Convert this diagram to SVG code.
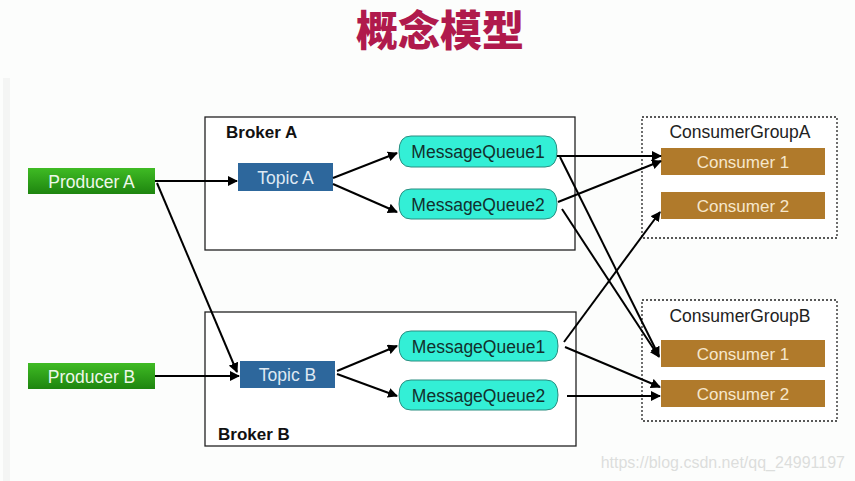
<svg xmlns="http://www.w3.org/2000/svg" width="855" height="481" viewBox="0 0 855 481">
<defs>
<linearGradient id="gGreen" x1="0" y1="0" x2="0" y2="1">
<stop offset="0" stop-color="#3fbb24"/>
<stop offset="1" stop-color="#1e850f"/>
</linearGradient>
<marker id="arr" viewBox="0 0 10 10" refX="9" refY="5" markerWidth="5" markerHeight="5" orient="auto" markerUnits="strokeWidth">
<path d="M0,0 L10,5 L0,10 Z" fill="#000"/>
</marker>
<style>
text{font-family:"Liberation Sans",Arial,sans-serif}
.title{font-family:"Noto Sans CJK SC",sans-serif;font-weight:900;font-size:42px;fill:#b01a4c}
.producer{fill:url(#gGreen)}
.ptext{font-size:17.5px;fill:#eef8ea}
.broker{fill:#fff;stroke:#222;stroke-width:1.3}
.blabel{font-size:17px;font-weight:bold;fill:#111}
.topic{fill:#2d679c}
.ttext{font-size:17.5px;fill:#dfe9f3}
.mq{fill:#33efd6;stroke:#2a8d80;stroke-width:1}
.mqtext{font-size:17.5px;fill:#12302d}
.group{fill:#fff;stroke:#222;stroke-width:1.3;stroke-dasharray:2 2}
.gtext{font-size:17.5px;fill:#222}
.consumer{fill:#b07a2b}
.ctext{font-size:17px;fill:#f6e7cc}
.conn line{stroke:#000;stroke-width:2;marker-end:url(#arr)}
</style>
</defs>
<rect width="855" height="481" fill="#fcfdfc"/>
<rect x="3" y="78" width="7" height="403" fill="#f4f5f4"/>
<text class="title" x="440" y="46" text-anchor="middle">概念模型</text>

<g id="brokerA">
<rect class="broker" x="205" y="117" width="370" height="133"/>
<text class="blabel" x="226" y="138">Broker A</text>
</g>
<g id="brokerB">
<rect class="broker" x="205" y="312" width="371" height="134"/>
<text class="blabel" x="218" y="440">Broker B</text>
</g>
<g id="groupA">
<rect class="group" x="642" y="117" width="195" height="121"/>
<text class="gtext" x="740" y="138" text-anchor="middle">ConsumerGroupA</text>
</g>
<g id="groupB">
<rect class="group" x="642" y="300" width="195" height="121"/>
<text class="gtext" x="740" y="322" text-anchor="middle">ConsumerGroupB</text>
</g>

<g id="producerA">
<rect class="producer" x="28" y="168" width="127" height="26"/>
<text class="ptext" x="91.5" y="187.5" text-anchor="middle">Producer A</text>
</g>
<g id="producerB">
<rect class="producer" x="28" y="363" width="127" height="26"/>
<text class="ptext" x="91.5" y="382.5" text-anchor="middle">Producer B</text>
</g>

<g id="topicA">
<rect class="topic" x="238" y="163" width="95" height="28"/>
<text class="ttext" x="285.5" y="183.5" text-anchor="middle">Topic A</text>
</g>
<g id="topicB">
<rect class="topic" x="240" y="361" width="95" height="27"/>
<text class="ttext" x="287.5" y="381" text-anchor="middle">Topic B</text>
</g>

<g id="mqA1">
<path class="mq" d="M411,136 H545 Q557,136 557,151.5 Q557,167 545,167 H411 Q399,167 399,151.5 Q399,136 411,136 Z"/>
<text class="mqtext" x="478" y="158" text-anchor="middle">MessageQueue1</text>
</g>
<g id="mqA2">
<path class="mq" d="M411,189 H545 Q557,189 557,204 Q557,219 545,219 H411 Q399,219 399,204 Q399,189 411,189 Z"/>
<text class="mqtext" x="478" y="210.5" text-anchor="middle">MessageQueue2</text>
</g>
<g id="mqB1">
<path class="mq" d="M411,331 H546 Q558,331 558,346 Q558,361 546,361 H411 Q399,361 399,346 Q399,331 411,331 Z"/>
<text class="mqtext" x="478.5" y="352.5" text-anchor="middle">MessageQueue1</text>
</g>
<g id="mqB2">
<path class="mq" d="M411,380 H546 Q558,380 558,395 Q558,410 546,410 H411 Q399,410 399,395 Q399,380 411,380 Z"/>
<text class="mqtext" x="478.5" y="401.5" text-anchor="middle">MessageQueue2</text>
</g>

<g id="consumerA1">
<rect class="consumer" x="661" y="148" width="164" height="27"/>
<text class="ctext" x="743" y="167.5" text-anchor="middle">Consumer 1</text>
</g>
<g id="consumerA2">
<rect class="consumer" x="661" y="192" width="164" height="27"/>
<text class="ctext" x="743" y="211.5" text-anchor="middle">Consumer 2</text>
</g>
<g id="consumerB1">
<rect class="consumer" x="661" y="340" width="164" height="27"/>
<text class="ctext" x="743" y="359.5" text-anchor="middle">Consumer 1</text>
</g>
<g id="consumerB2">
<rect class="consumer" x="661" y="380" width="164" height="27"/>
<text class="ctext" x="743" y="399.5" text-anchor="middle">Consumer 2</text>
</g>

<g class="conn">
<line x1="155" y1="181" x2="237" y2="181"/>
<line x1="157" y1="183" x2="237" y2="372"/>
<line x1="155" y1="376" x2="239" y2="376"/>
<line x1="333" y1="178" x2="397" y2="153"/>
<line x1="333" y1="184" x2="397" y2="212"/>
<line x1="337" y1="371" x2="397" y2="346"/>
<line x1="337" y1="374" x2="397" y2="396"/>
<line x1="557" y1="156" x2="661" y2="156"/>
<line x1="558" y1="202" x2="661" y2="161"/>
<line x1="560" y1="157" x2="659" y2="356"/>
<line x1="562" y1="209" x2="659" y2="357"/>
<line x1="564" y1="342" x2="660" y2="212"/>
<line x1="565" y1="347" x2="660" y2="387"/>
<line x1="567" y1="396" x2="660" y2="396"/>
</g>

<text x="845" y="468" text-anchor="end" style="font-size:16px;fill:#dcdedc">https://blog.csdn.net/qq_24991197</text>
</svg>
